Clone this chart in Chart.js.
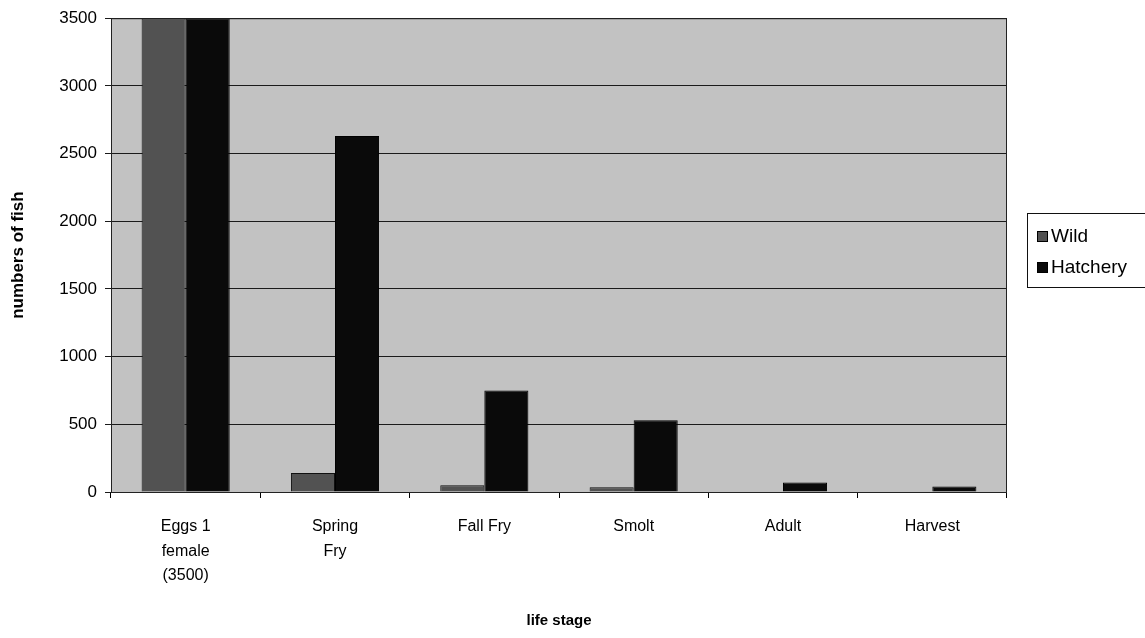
<!DOCTYPE html>
<html>
<head>
<meta charset="utf-8">
<script src="https://cdn.jsdelivr.net/npm/chart.js@4.4.1/dist/chart.umd.min.js"></script>
<style>
  html, body { margin: 0; padding: 0; background: #fff; }
  #wrap { width: 1145px; height: 638px; }
</style>
</head>
<body>
<div id="wrap"><canvas id="fishChart" width="1145" height="638"></canvas></div>
<script>
// life stages along the x axis (multi-line labels as arrays)
const stages = [["Eggs 1", "female", "(3500)"], ["Spring", "Fry"], "Fall Fry", "Smolt", "Adult", "Harvest"];
const wild = [3500, 140, 50, 35, 0, 0];
const hatchery = [3500, 2630, 750, 530, 70, 40];
const yMax = 3500;
const yStep = 500;

const font = "'Liberation Sans', Arial, sans-serif";

// grey plot background + frame
const plotBg = {
  id: "plotBg",
  beforeDraw(chart) {
    const a = chart.chartArea, ctx = chart.ctx;
    ctx.save();
    ctx.fillStyle = "#c2c2c2";
    ctx.fillRect(a.left, a.top, a.right - a.left, a.bottom - a.top);
    ctx.restore();
  },
  afterDatasetsDraw(chart) {
    const a = chart.chartArea, ctx = chart.ctx;
    ctx.save();
    ctx.strokeStyle = "#222";
    ctx.lineWidth = 1;
    ctx.strokeRect(a.left + 0.5, a.top + 0.5, a.right - a.left - 1, a.bottom - a.top);
    ctx.restore();
  }
};

// legend box on the right, cut off by the edge
const sideLegend = {
  id: "sideLegend",
  afterDraw(chart) {
    const ctx = chart.ctx;
    ctx.save();
    ctx.strokeStyle = "#111";
    ctx.lineWidth = 1;
    ctx.strokeRect(1027.5, 213.5, 130, 74);
    ctx.font = "19px " + font;
    ctx.textBaseline = "middle";
    chart.data.datasets.forEach((ds, i) => {
      const y = 236 + i * 31;
      ctx.fillStyle = ds.backgroundColor;
      ctx.fillRect(1037, y - 5, 11, 11);
      ctx.strokeStyle = "#000";
      ctx.strokeRect(1037.5, y - 4.5, 10, 10);
      ctx.fillStyle = "#000";
      ctx.fillText(ds.label, 1051, y + 1);
    });
    ctx.restore();
  }
};

new Chart(document.getElementById("fishChart"), {
  type: "bar",
  data: {
    labels: stages,
    datasets: [
      { label: "Wild", data: wild, backgroundColor: "#525252", borderColor: "#111", borderWidth: 1 },
      { label: "Hatchery", data: hatchery, backgroundColor: "#0a0a0a", borderColor: "#000", borderWidth: 1 }
    ]
  },
  options: {
    responsive: false,
    animation: false,
    layout: { padding: { top: 17, right: 138, bottom: 0, left: 0 } },
    datasets: { bar: { categoryPercentage: 0.59, barPercentage: 1.0 } },
    plugins: {
      legend: { display: false },
      tooltip: { enabled: false }
    },
    scales: {
      x: {
        grid: { display: true, drawOnChartArea: false, offset: true, color: "#000", tickLength: 6 },
        border: { display: false },
        ticks: {
          color: "#000",
          font: { family: font, size: 16, lineHeight: 1.55 },
          padding: 16,
          maxRotation: 0,
          autoSkip: false
        },
        title: {
          display: true,
          text: "life stage",
          color: "#000",
          font: { family: font, size: 15, weight: "bold" },
          padding: { top: 0, bottom: 8 }
        },
        afterFit(scale) { scale.height = 146; }
      },
      y: {
        min: 0,
        max: yMax,
        ticks: {
          stepSize: yStep,
          color: "#000",
          font: { family: font, size: 17 },
          padding: 8,
          callback: (v) => String(v)
        },
        grid: { color: "#1a1a1a", lineWidth: 1, tickLength: 6 },
        border: { display: false },
        title: {
          display: true,
          text: "numbers of fish",
          color: "#000",
          font: { family: font, size: 17, weight: "bold" },
          padding: { top: 8, bottom: 0 }
        },
        afterFit(scale) { scale.width = 111; }
      }
    }
  },
  plugins: [plotBg, sideLegend]
});
</script>
</body>
</html>
